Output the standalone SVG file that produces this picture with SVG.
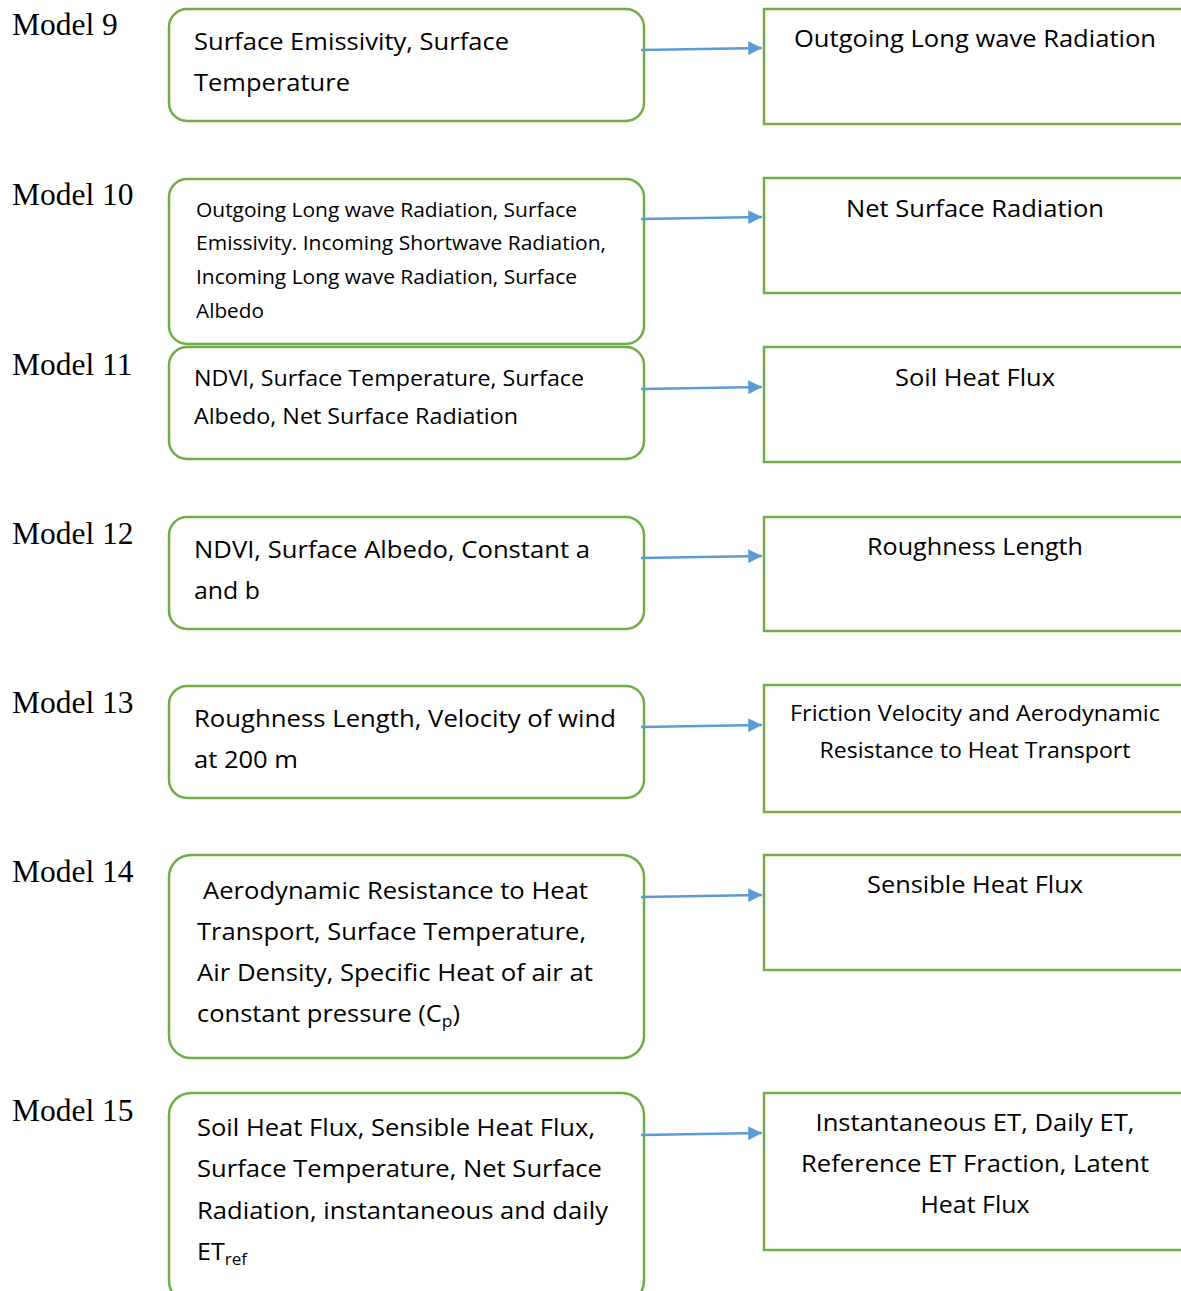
<svg xmlns="http://www.w3.org/2000/svg" width="1181" height="1291" viewBox="0 0 1181 1291">
<style>
.lbl{font-family:"Liberation Serif","Times New Roman",serif;font-size:31.5px;fill:#000}
.t{font-family:"Open Sans",Lato,sans-serif;font-size:23.5px;fill:#000}
.s{font-size:19.5px}
.m{font-size:21.5px}
.c{text-anchor:middle}
.lb{fill:#fff;stroke:#70AD47;stroke-width:2.5}
.rb{fill:#fff;stroke:#70AD47;stroke-width:2.5}
.cn{stroke:#5B9BD5;stroke-width:2.5;fill:none}
</style>
<defs>
<marker id="ah" viewBox="0 0 10 10" refX="10" refY="5" markerWidth="6" markerHeight="5.5" markerUnits="strokeWidth" orient="auto">
<path d="M0,0 L10,5 L0,10 z" fill="#5B9BD5"/>
</marker>
</defs>
<rect width="1181" height="1291" fill="#fff"/>
<g id="labels">
<text class="lbl" x="12" y="35">Model 9</text>
<text class="lbl" x="12" y="205">Model 10</text>
<text class="lbl" x="12" y="375">Model 11</text>
<text class="lbl" x="12" y="544">Model 12</text>
<text class="lbl" x="12" y="713">Model 13</text>
<text class="lbl" x="12" y="882">Model 14</text>
<text class="lbl" x="12" y="1121">Model 15</text>
</g>
<g id="in9">
<rect class="lb" x="169" y="9" width="475" height="112" rx="18"/>
<text class="t" x="194" y="50" textLength="315" lengthAdjust="spacingAndGlyphs">Surface Emissivity, Surface</text>
<text class="t" x="194" y="91" textLength="156" lengthAdjust="spacingAndGlyphs">Temperature</text>
</g>
<g id="in10">
<rect class="lb" x="169" y="179" width="475" height="165" rx="18"/>
<text class="t s" x="196" y="217" textLength="381" lengthAdjust="spacingAndGlyphs">Outgoing Long wave Radiation, Surface</text>
<text class="t s" x="196" y="250" textLength="410" lengthAdjust="spacingAndGlyphs">Emissivity. Incoming Shortwave Radiation,</text>
<text class="t s" x="196" y="284" textLength="381" lengthAdjust="spacingAndGlyphs">Incoming Long wave Radiation, Surface</text>
<text class="t s" x="196" y="318" textLength="68" lengthAdjust="spacingAndGlyphs">Albedo</text>
</g>
<g id="in11">
<rect class="lb" x="169" y="347" width="475" height="112" rx="18"/>
<text class="t m" x="194" y="386" textLength="390" lengthAdjust="spacingAndGlyphs">NDVI, Surface Temperature, Surface</text>
<text class="t m" x="194" y="424" textLength="324" lengthAdjust="spacingAndGlyphs">Albedo, Net Surface Radiation</text>
</g>
<g id="in12">
<rect class="lb" x="169" y="517" width="475" height="112" rx="18"/>
<text class="t" x="194" y="558" textLength="396" lengthAdjust="spacingAndGlyphs">NDVI, Surface Albedo, Constant a</text>
<text class="t" x="194" y="599" textLength="66" lengthAdjust="spacingAndGlyphs">and b</text>
</g>
<g id="in13">
<rect class="lb" x="169" y="686" width="475" height="112" rx="18"/>
<text class="t" x="194" y="727" textLength="422" lengthAdjust="spacingAndGlyphs">Roughness Length, Velocity of wind</text>
<text class="t" x="194" y="768" textLength="104" lengthAdjust="spacingAndGlyphs">at 200 m</text>
</g>
<g id="in14">
<rect class="lb" x="169" y="855" width="475" height="203" rx="22"/>
<text class="t" x="203" y="899" textLength="385" lengthAdjust="spacingAndGlyphs">Aerodynamic Resistance to Heat</text>
<text class="t" x="197" y="940" textLength="389" lengthAdjust="spacingAndGlyphs">Transport, Surface Temperature,</text>
<text class="t" x="197" y="981" textLength="396" lengthAdjust="spacingAndGlyphs">Air Density, Specific Heat of air at</text>
<text class="t" x="197" y="1022" textLength="263" lengthAdjust="spacingAndGlyphs">constant pressure (C<tspan font-size="16" dy="5">p</tspan><tspan dy="-5">)</tspan></text>
</g>
<g id="in15">
<rect class="lb" x="169" y="1093" width="475" height="210" rx="22"/>
<text class="t" x="197" y="1136" textLength="398" lengthAdjust="spacingAndGlyphs">Soil Heat Flux, Sensible Heat Flux,</text>
<text class="t" x="197" y="1177" textLength="405" lengthAdjust="spacingAndGlyphs">Surface Temperature, Net Surface</text>
<text class="t" x="197" y="1219" textLength="411" lengthAdjust="spacingAndGlyphs">Radiation, instantaneous and daily</text>
<text class="t" x="197" y="1260" textLength="50" lengthAdjust="spacingAndGlyphs">ET<tspan font-size="16" dy="5">ref</tspan></text>
</g>
<g id="out9">
<rect class="rb" x="764" y="9" width="430" height="115"/>
<text class="t c" x="975" y="47" textLength="362" lengthAdjust="spacingAndGlyphs">Outgoing Long wave Radiation</text>
</g>
<g id="out10">
<rect class="rb" x="764" y="178" width="430" height="115"/>
<text class="t c" x="975" y="217" textLength="258" lengthAdjust="spacingAndGlyphs">Net Surface Radiation</text>
</g>
<g id="out11">
<rect class="rb" x="764" y="347" width="430" height="115"/>
<text class="t c" x="975" y="386" textLength="160" lengthAdjust="spacingAndGlyphs">Soil Heat Flux</text>
</g>
<g id="out12">
<rect class="rb" x="764" y="517" width="430" height="114"/>
<text class="t c" x="975" y="555" textLength="216" lengthAdjust="spacingAndGlyphs">Roughness Length</text>
</g>
<g id="out13">
<rect class="rb" x="764" y="685" width="430" height="127"/>
<text class="t c m" x="975" y="721" textLength="370" lengthAdjust="spacingAndGlyphs">Friction Velocity and Aerodynamic</text>
<text class="t c m" x="975" y="758" textLength="311" lengthAdjust="spacingAndGlyphs">Resistance to Heat Transport</text>
</g>
<g id="out14">
<rect class="rb" x="764" y="855" width="430" height="115"/>
<text class="t c" x="975" y="893" textLength="216" lengthAdjust="spacingAndGlyphs">Sensible Heat Flux</text>
</g>
<g id="out15">
<rect class="rb" x="764" y="1093" width="430" height="157"/>
<text class="t c" x="975" y="1131" textLength="319" lengthAdjust="spacingAndGlyphs">Instantaneous ET, Daily ET,</text>
<text class="t c" x="975" y="1172" textLength="348" lengthAdjust="spacingAndGlyphs">Reference ET Fraction, Latent</text>
<text class="t c" x="975" y="1213" textLength="109" lengthAdjust="spacingAndGlyphs">Heat Flux</text>
</g>
<g id="connectors">
<line class="cn" x1="641" y1="50" x2="762" y2="48" marker-end="url(#ah)"/>
<line class="cn" x1="641" y1="219" x2="762" y2="217" marker-end="url(#ah)"/>
<line class="cn" x1="641" y1="389" x2="762" y2="387" marker-end="url(#ah)"/>
<line class="cn" x1="641" y1="558" x2="762" y2="556" marker-end="url(#ah)"/>
<line class="cn" x1="641" y1="727" x2="762" y2="725" marker-end="url(#ah)"/>
<line class="cn" x1="641" y1="897" x2="762" y2="895" marker-end="url(#ah)"/>
<line class="cn" x1="641" y1="1135" x2="762" y2="1133" marker-end="url(#ah)"/>
</g>
</svg>
